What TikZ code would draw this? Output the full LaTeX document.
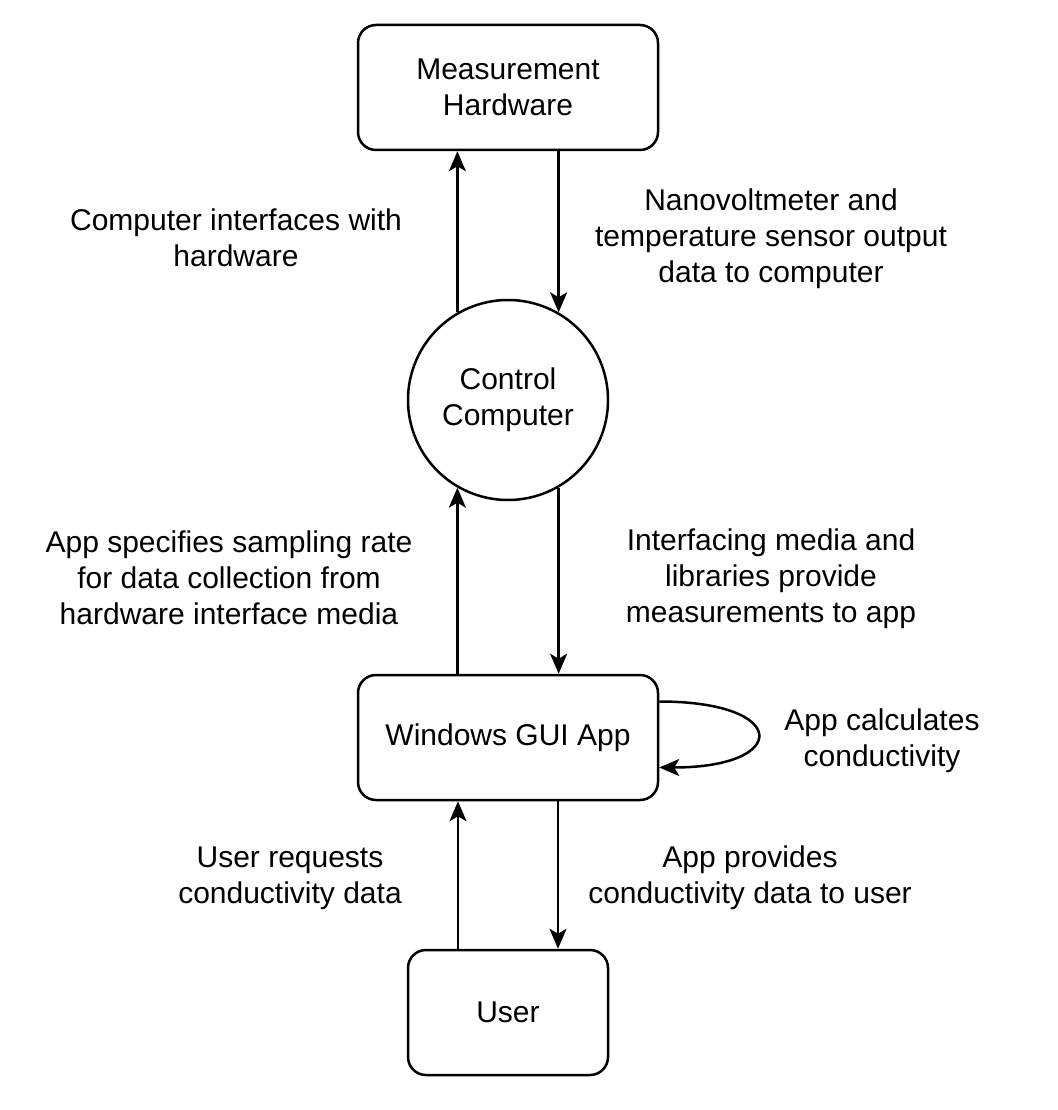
\documentclass[tikz,border=0pt]{standalone}
\usepackage{fontspec}
\setmainfont{Liberation Sans}
\usetikzlibrary{arrows.meta}

\tikzset{
  box/.style={draw, line width=2.5pt, rounded corners=18pt, minimum width=300pt,
    minimum height=125pt, align=center, inner sep=0pt},
  proc/.style={draw, line width=2.5pt, circle, minimum size=200pt, align=center, inner sep=0pt},
  lbl/.style={align=center, inner sep=0pt},
  flow/.style={line width=2.5pt, -{Stealth[length=20pt, width=17pt, inset=5pt]}}
}

\begin{document}
\begin{tikzpicture}[x=1pt, y=-1pt, font=\fontsize{30}{36}\selectfont]
 \useasboundingbox (0,0) rectangle (1057,1110);

 \node[box] (hw) at (508,87.5) {Measurement\\Hardware};
 \node[proc] (pc) at (508,400) {Control\\Computer};
 \node[box] (app) at (508,737.5) {Windows GUI App};
 \node[box, minimum width=200pt] (user) at (508,1012.5) {User};

\draw[flow] (pc.120) -- (pc.120 |- hw.south);
\draw[flow] (hw.south -| pc.60) -- (pc.60);
\draw[flow] (app.north -| pc.240) -- (pc.240);
\draw[flow] (pc.300) -- (pc.300 |- app.north);
\draw[flow] ([xshift=-50]user.north) -- ([xshift=-50]app.south);
\draw[flow] ([xshift=50]app.south) -- ([xshift=50]user.north);
\draw[flow] ([yshift=36]app.east) .. controls ([xshift=131,yshift=36]app.east)
   and ([xshift=131,yshift=-30]app.east) .. ([yshift=-30]app.east);

 \node[lbl] (l1) at (236,238) {Computer interfaces with\\hardware};
 \node[lbl] (l2) at (771,239) {Nanovoltmeter and\\temperature sensor output\\data to computer};
 \node[lbl] (l3) at (229,578) {App specifies sampling rate\\for data collection from\\hardware interface media};
 \node[lbl] (l4) at (771,579) {Interfacing media and\\libraries provide\\measurements to app};
 \node[lbl] (l5) at (882,741) {App calculates\\conductivity};
 \node[lbl] (l6) at (290,878) {User requests\\conductivity data};
 \node[lbl] (l7) at (750,878) {App provides\\conductivity data to user};
  \end{tikzpicture}
\end{document}
